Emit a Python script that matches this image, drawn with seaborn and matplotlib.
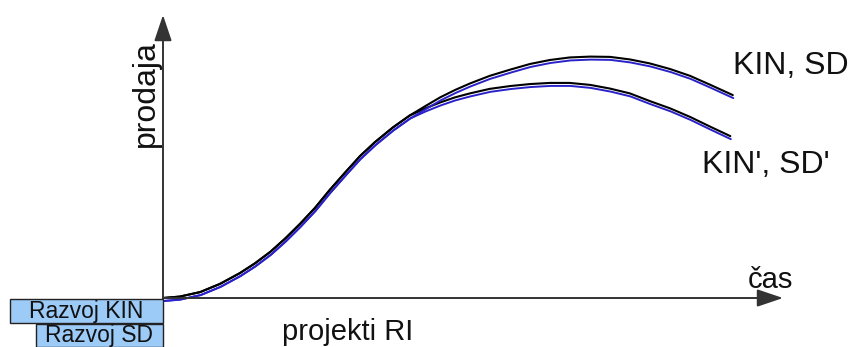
import matplotlib
matplotlib.use('Agg')
import matplotlib.pyplot as plt
import matplotlib.transforms as mtrans
import pandas as pd
import seaborn as sns

# time (0 = market launch, 100 = end of axis) and sales
time = [0, 2.7, 6, 9.2, 12.4, 14.8, 17.3, 19.7, 22.1, 24.5, 26.9, 29.4, 31.8,
        34.2, 37.1, 39.8, 42.3, 44.7, 47.1, 49.5, 52.7, 56, 59.2, 62.4, 65.6,
        68.9, 72.1, 75.3, 78.5, 81.8, 85, 88.2, 91.9]
sales_kin_sd = [0, 0.5, 2.1, 5, 8.8, 12.2, 16.3, 21, 26.2, 31.8, 38.2, 44.4,
                50.2, 55.1, 60.3, 64.5, 67.8, 70.9, 73.5, 75.8, 78.5, 80.7,
                82.7, 84.1, 85, 85.3, 85.2, 84.3, 82.9, 80.9, 78.5, 75.4, 71.7]
time_b = [0, 2.7, 6, 9.2, 12.4, 14.8, 17.3, 19.7, 22.1, 24.5, 26.9, 29.4, 31.8,
          34.2, 37.1, 39.8, 42.3, 44.7, 47.1, 49.5, 52.7, 56, 59.2, 62.4, 65.6,
          68.9, 72.1, 75.3, 78.5, 81.8, 85, 88.2, 91.5]
sales_kin_sd_b = [0, 0.5, 2.1, 5, 8.8, 12.2, 16.3, 21, 26.2, 31.8, 38.2, 44.4,
                  50.2, 55.1, 60.3, 64.5, 67, 69.1, 70.9, 72.3, 73.9, 74.9,
                  75.6, 76, 76, 75.3, 74, 72.3, 69.6, 67, 64, 60.6, 57.2]

# development phases before launch (start time, end time)
phases = ['Razvoj KIN', 'Razvoj SD']
phase_start = [-24.7, -20.5]
phase_end = [0, 0]

sns.set_theme(style='white')
plt.rcParams['font.family'] = ['Liberation Sans', 'DejaVu Sans']

fig = plt.figure(figsize=(8.55, 3.47), dpi=100)
ax = fig.add_axes([0, 0, 1, 1])
ax.set_xlim(-26.29, 111.61)
ax.set_ylim(-17.31, 105.3)
ax.axis('off')

df_a = pd.DataFrame({'time': time, 'sales': sales_kin_sd})
df_b = pd.DataFrame({'time': time_b, 'sales': sales_kin_sd_b})

# each curve is a black line with a blue twin slightly below it
shift = mtrans.offset_copy(ax.transData, fig=fig, x=0.5, y=-3, units='dots')
for df in (df_b, df_a):
    sns.lineplot(data=df, x='time', y='sales', ax=ax, color='black',
                 linewidth=1.5, sort=False, solid_joinstyle='round',
                 solid_capstyle='round')
    sns.lineplot(data=df, x='time', y='sales', ax=ax, color='#2a22c8',
                 linewidth=1.4, sort=False, transform=shift,
                 solid_joinstyle='round', solid_capstyle='round')

# axes with arrow heads
arrow = dict(arrowstyle='-|>,head_length=0.8,head_width=0.27', color='#333333',
             lw=1.4, shrinkA=0, shrinkB=0, mutation_scale=20)
ax.annotate('', xy=(100, 0), xytext=(0, 0), arrowprops=arrow)
ax.annotate('', xy=(0, 100), xytext=(0, 0), arrowprops=arrow)

# development bars
rows = [-4.6, -13.25]
heights = [8.5, 8.3]
for name, s, e, yc, h in zip(phases, phase_start, phase_end, rows, heights):
    ax.barh(yc, e - s, left=s, height=h, color='#9dcbf7', edgecolor='#222222',
            linewidth=1.0, zorder=3)
    ax.text((s + e) / 2, yc, name, ha='center', va='center', fontsize=16.5,
            color='#111111', zorder=4)

ax.text(91.9, 82.0, 'KIN, SD', ha='left', va='center', fontsize=23, color='#111111')
ax.text(86.9, 47.0, "KIN', SD'", ha='left', va='center', fontsize=23, color='#111111')
ax.text(97.9, 3.5, 'čas', ha='center', va='baseline', fontsize=21, color='#111111')
ax.text(-2.74, 72.4, 'prodaja', ha='center', va='center', rotation=90,
        fontsize=23, color='#111111')
ax.text(19.2, -14.8, 'projekti RI', ha='left', va='baseline', fontsize=21,
        color='#111111')

fig.savefig('out.png', dpi=100)
